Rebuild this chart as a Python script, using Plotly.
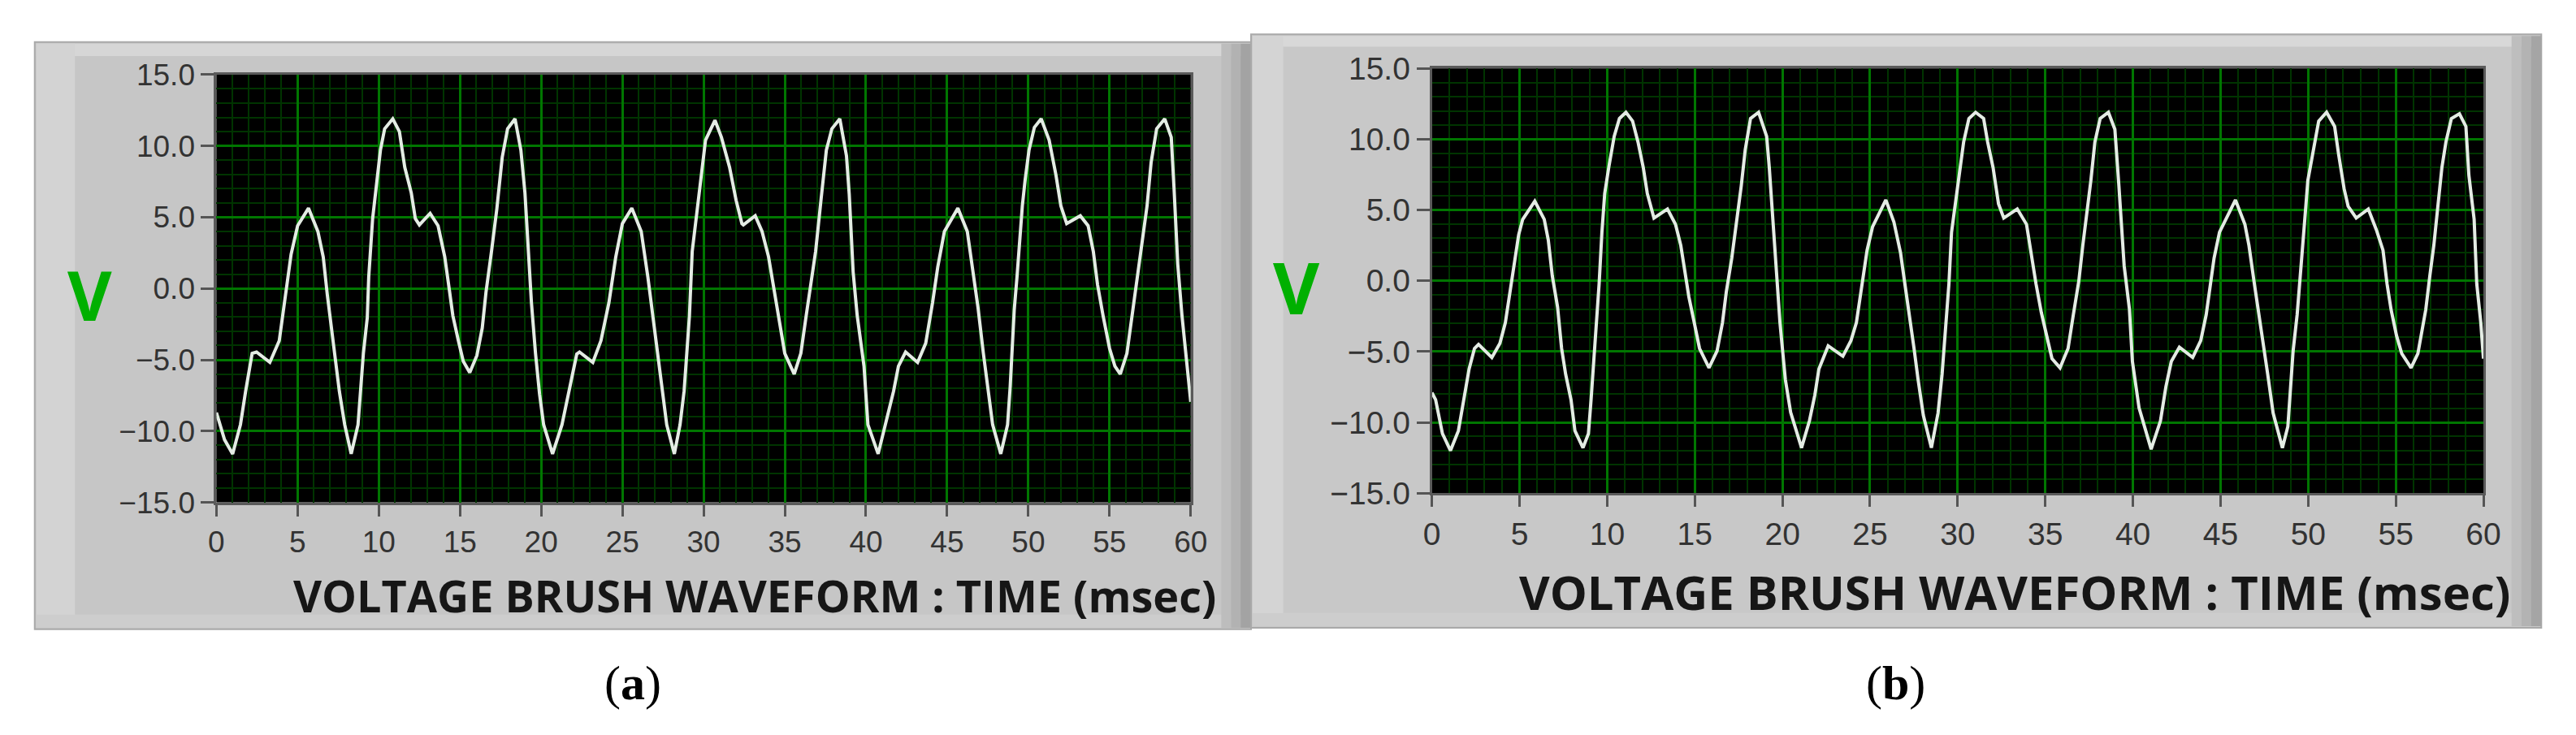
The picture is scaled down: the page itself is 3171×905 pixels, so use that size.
import plotly.graph_objects as go

# ---------------- data ----------------
time_a = [0.0, 0.5, 1.0, 1.48, 1.8, 2.2, 2.47, 3.29, 3.87, 4.28, 4.6, 5.0, 5.67, 6.25, 6.58, 6.83,
          7.15, 7.57, 7.9, 8.3, 8.72, 8.88, 9.05, 9.29, 9.38, 9.62, 9.87, 10.1, 10.36, 10.86, 11.27,
          11.6, 12.0, 12.25, 12.5, 13.16, 13.65, 14.06, 14.3, 14.56, 14.9, 15.2, 15.6, 16.04, 16.37,
          16.6, 16.94, 17.27, 17.6, 17.93, 18.39, 18.75, 19.0, 19.16, 19.4, 19.65, 19.9, 20.15, 20.7,
          21.28, 21.86, 22.19, 22.36, 23.18, 23.68, 24.17, 24.59, 25.0, 25.58, 26.16, 26.57, 26.9,
          27.15, 27.48, 27.73, 28.2, 28.55, 28.8, 29.13, 29.3, 29.55, 29.8, 30.12, 30.7, 31.1, 31.6,
          32.0, 32.36, 32.45, 33.18, 33.6, 34.0, 34.34, 34.6, 35.0, 35.58, 35.99, 36.32, 36.57, 36.9,
          37.23, 37.56, 37.9, 38.39, 38.8, 38.97, 39.21, 39.46, 39.88, 40.12, 40.75,
          41.36, 41.7, 42.0, 42.44, 43.18, 43.68, 44.1, 44.42, 44.83, 45.66, 46.24, 46.57, 46.9, 47.23,
          47.48, 47.8, 48.3, 48.72, 48.88, 49.13, 49.3, 49.46, 49.63, 49.8, 50.04, 50.37, 50.79, 51.28,
          51.7, 52.0, 52.36, 53.2, 53.68, 54.0, 54.26, 54.6, 55.0, 55.33, 55.66, 56.07, 56.4, 56.65,
          56.98, 57.31, 57.56, 57.9, 58.4, 58.8, 58.97, 59.2, 59.46, 59.8, 60.0]
volt_a = [-8.7, -10.6, -11.6, -9.55, -7.2, -4.55, -4.46, -5.18, -3.66, -0.1, 2.4, 4.4, 5.63, 4.0, 2.2, -0.45,
          -3.5, -7.2, -9.55, -11.6, -9.55, -7.2, -4.55, -2.05, 0.8, 4.9, 7.4, 9.7, 11.2, 11.9, 11.0,
          8.5, 6.7, 4.9, 4.46, 5.27, 4.4, 2.23, 0.27, -1.9, -3.66, -5.1, -5.9, -4.7, -2.77,
          -0.27, 2.6, 5.6, 9.2, 11.2, 11.9, 9.7, 6.7, 3.5, -1.0, -4.55, -7.4, -9.55, -11.6,
          -9.55, -6.3, -4.6, -4.46, -5.18, -3.66, -1.0, 2.2, 4.55, 5.63, 4.0, 0.8, -2.05,
          -4.2, -7.2, -9.55, -11.6, -9.55, -7.2, -1.9, 2.6, 5.1, 7.4, 10.4, 11.8, 10.6, 8.5,
          6.2, 4.55, 4.46, 5.1, 4.0, 2.23, -0.1, -1.9, -4.55, -6.0, -4.55, -1.9, -0.1, 2.6,
          6.2, 9.7, 11.2, 11.9, 9.3, 6.6, 1.16, -1.9, -5.45, -9.55, -11.6,
          -8.84, -7.2, -5.45, -4.46, -5.18, -3.84, -1.0, 1.5, 4.0, 5.63, 4.0, 1.5, -1.34, -4.55,
          -6.7, -9.55, -11.6, -9.55, -6.9, -1.5, 0.8, 3.5, 5.8, 7.6, 9.7, 11.3, 11.9, 10.4,
          7.95, 5.8, 4.55, 5.1, 4.4, 2.6, 0.27, -1.9, -4.2, -5.45, -6.0, -4.55, -1.9, 0.1,
          2.95, 5.8, 8.84, 11.2, 11.9, 10.6, 7.05, 1.7, -1.9, -5.45, -7.95]

time_b = [0.0, 0.21, 0.6, 1.06, 1.51, 1.82, 2.12, 2.43, 2.66, 3.42, 3.88, 4.19, 4.42, 4.57, 4.72, 4.95,
          5.18, 5.87, 6.41, 6.64, 6.87, 7.17, 7.4, 7.63, 7.94, 8.16, 8.62, 8.93, 9.08, 9.24, 9.39,
          9.54, 9.7, 9.86, 10.09, 10.4, 10.7, 11.07, 11.45, 11.76, 12.06, 12.29, 12.67, 13.44, 13.9,
          14.2, 14.43, 14.66, 14.97, 15.27, 15.81, 16.27, 16.58, 16.8, 17.11, 17.42, 17.65, 17.88,
          18.18, 18.64, 19.1, 19.25, 19.4, 19.56, 19.71, 19.86, 20.0, 20.17, 20.47, 21.09, 21.54,
          21.85, 22.08, 22.61, 23.45, 23.91, 24.22, 24.53, 24.83, 25.14, 25.9, 26.36, 26.74, 27.05,
          27.28, 27.51, 27.74, 28.04, 28.5, 28.88, 29.11, 29.27, 29.5, 29.65, 29.88, 30.11, 30.34,
          30.64, 31.02, 31.48, 31.71, 32.02, 32.33, 32.63, 33.4, 33.93, 34.16, 34.47, 34.77, 35.08,
          35.38, 35.84, 36.3, 36.6, 36.91, 37.14, 37.37, 37.6, 37.83, 38.13, 38.6, 38.97, 39.2, 39.5,
          39.8, 39.97, 40.35, 41.04, 41.57, 41.88, 42.19, 42.65, 43.41, 43.87, 44.18, 44.41, 44.63,
          44.94, 45.85, 46.39, 46.62, 46.93, 47.23, 47.46, 47.69, 48.0, 48.53, 48.84, 48.99, 49.14,
          49.37, 49.53, 49.68, 49.83, 49.98, 50.21, 50.6, 51.05, 51.51, 51.74, 52.05, 52.28, 52.74,
          53.43, 53.89, 54.27, 54.5, 54.73, 55.04, 55.34, 55.87, 56.26, 56.49, 56.71, 56.94, 57.17,
          57.4, 57.63, 57.86, 58.17, 58.63, 59.0, 59.17, 59.47, 59.62, 59.85, 60.0]
volt_b = [-7.9, -8.4, -10.8, -12.0, -10.6, -8.43, -6.24, -4.78, -4.5, -5.42, -4.42, -2.96, -1.13, 0.33, 1.6, 3.25,
          4.34, 5.62, 4.34, 2.88, 0.33, -1.86, -4.78, -6.6, -8.43, -10.6, -11.8, -10.8, -8.43, -5.7, -2.96,
          -0.22, 3.43, 6.17, 8.0, 10.2, 11.46, 11.9, 11.28, 9.8, 8.0, 6.17, 4.43, 5.07, 3.98,
          2.5, 0.69, -1.13, -2.96, -4.78, -6.15, -4.96, -2.96, -0.77, 1.6, 4.34, 6.7, 9.27,
          11.46, 11.9, 10.2, 8.0, 5.26, 2.5, -0.22, -2.96, -4.8, -7.0, -9.3, -11.8, -9.9,
          -8.07, -6.24, -4.6, -5.33, -4.23, -2.96, -0.22, 2.15, 3.8, 5.71, 4.16, 1.97, -0.77,
          -2.6, -4.78, -6.97, -9.5, -11.8, -9.34, -6.6, -3.87, -0.22, 3.43, 5.62, 8.0, 9.8,
          11.46, 11.9, 11.46, 9.8, 8.0, 5.44, 4.43, 5.07, 3.98, 2.15, -0.22, -2.23, -3.87,
          -5.5, -6.15, -4.78, -2.4, -0.04, 2.5, 4.7, 7.08, 9.8, 11.46, 11.9, 10.7, 6.7, 1.06,
          -2.0, -5.7, -8.98, -11.9, -9.9, -7.5, -5.7, -4.69, -5.42, -4.23, -2.4, -0.22, 1.6,
          3.43, 5.71, 3.98, 2.5, -0.22, -2.6, -4.78, -6.6, -9.34, -11.8, -10.3, -7.5, -4.96,
          -2.4, 0.33, 2.5, 4.7, 7.08, 8.7, 11.28, 11.9, 10.9, 8.9, 6.5, 5.26, 4.43,
          5.07, 3.6, 2.15, -0.22, -2.04, -3.87, -5.15, -6.15, -5.15, -3.69, -2.04, 0.33, 2.5,
          5.26, 8.0, 9.8, 11.46, 11.8, 10.9, 7.45, 4.34, -0.22, -2.96, -5.5]

axis_title = "VOLTAGE BRUSH WAVEFORM : TIME (msec)"
y_label = "V"
panel_labels = ["a", "b"]

# ---------------- figure ----------------
W, H = 3171, 905


def px_x(x):
    return x / W


def px_y(y):
    return 1 - y / H


# plot-area boxes in pixels (left, top, right, bottom)
box_a = (250, 66, 1462, 619)
box_b = (1762, 58, 3070, 607)

fig = go.Figure()

line_style = dict(color="#e4ece4", width=4)
fig.add_trace(go.Scatter(x=time_a, y=volt_a, mode="lines", line=line_style,
                         xaxis="x", yaxis="y", showlegend=False, hoverinfo="skip"))
fig.add_trace(go.Scatter(x=time_b, y=volt_b, mode="lines", line=line_style,
                         xaxis="x2", yaxis="y2", showlegend=False, hoverinfo="skip"))

tick_family = "Liberation Sans, Arial, sans-serif"
tick_font_a = dict(family=tick_family, size=37, color="#333333")
tick_font_b = dict(family=tick_family, size=39, color="#333333")

major_grid = "rgb(0,118,0)"
minor_grid = "rgb(0,52,0)"


def xaxis_cfg(box, font):
    return dict(domain=[px_x(box[0]), px_x(box[2])], range=[0, 60], dtick=5, tick0=0,
                showgrid=True, gridcolor=major_grid, gridwidth=2.5,
                minor=dict(dtick=1, showgrid=True, gridcolor=minor_grid, gridwidth=1.5),
                ticks="outside", ticklen=14, tickwidth=3, tickcolor="#555555",
                tickfont=font, showline=True, linecolor="#5a5a5a", linewidth=3, mirror=True,
                zeroline=False, fixedrange=True)


def yaxis_cfg(box, font, anchor):
    return dict(domain=[px_y(box[3]), px_y(box[1])], range=[-15, 15], dtick=5, tick0=0,
                tickformat=".1f",
                showgrid=True, gridcolor=major_grid, gridwidth=2.5,
                minor=dict(dtick=1, showgrid=True, gridcolor=minor_grid, gridwidth=1.5),
                ticks="outside", ticklen=16, tickwidth=3, tickcolor="#555555",
                tickfont=font, showline=True, linecolor="#5a5a5a", linewidth=3, mirror=True,
                zeroline=False, anchor=anchor, fixedrange=True)


fig.update_layout(
    width=W, height=H,
    margin=dict(l=0, r=0, t=0, b=0),
    paper_bgcolor="white",
    plot_bgcolor="black",
    xaxis=xaxis_cfg(box_a, tick_font_a),
    yaxis=yaxis_cfg(box_a, tick_font_a, "x"),
    xaxis2=dict(xaxis_cfg(box_b, tick_font_b), anchor="y2"),
    yaxis2=yaxis_cfg(box_b, tick_font_b, "x2"),
)

# ---------------- gray LabVIEW-like panels ----------------
shapes = []


def rect(x0, y0, x1, y1, fill, line=None, lw=0):
    shapes.append(dict(type="rect", xref="paper", yref="paper",
                       x0=px_x(x0), x1=px_x(x1), y0=px_y(y1), y1=px_y(y0),
                       fillcolor=fill, line=dict(color=line or fill, width=lw),
                       layer="below"))


# panel (a)
rect(24, 24, 1537, 783, "#c6c6c6", "#a9a9a9", 2)
rect(26, 26, 1535, 42, "#d6d6d6")
rect(26, 26, 74, 781, "#d3d3d3")
rect(26, 764, 1535, 781, "#cdcdcd")
rect(1500, 26, 1512, 781, "#bdbdbd")
rect(1512, 26, 1524, 781, "#b2b2b2")
rect(1524, 26, 1537, 781, "#a3a3a3")
# panel (b)
rect(1537, 14, 3142, 781, "#c8c8c8", "#a9a9a9", 2)
rect(1539, 16, 3140, 30, "#d8d8d8")
rect(1539, 16, 1577, 779, "#d4d4d4")
rect(1539, 762, 3140, 779, "#cdcdcd")
rect(3105, 16, 3117, 779, "#bebebe")
rect(3117, 16, 3129, 779, "#b3b3b3")
rect(3129, 16, 3142, 779, "#a5a5a5")
# black plot screens
rect(*box_a, "black")
rect(*box_b, "black")

fig.update_layout(shapes=shapes)

# ---------------- text ----------------
title_font = dict(family="Open Sans, Noto Sans, DejaVu Sans, sans-serif", size=54, color="#161616")
annotations = [
    dict(text="<b>" + axis_title + "</b>", x=px_x(920), y=px_y(739), xref="paper", yref="paper",
         showarrow=False, xanchor="center", yanchor="middle", font=title_font),
    dict(text="<b>" + axis_title + "</b>", x=px_x(2487), y=px_y(734), xref="paper", yref="paper",
         showarrow=False, xanchor="center", yanchor="middle",
         font=dict(title_font, size=58)),
    dict(text="<b>" + y_label + "</b>", x=px_x(92), y=px_y(350), xref="paper", yref="paper",
         showarrow=False, xanchor="center", yanchor="middle",
         font=dict(family="Open Sans, DejaVu Sans, sans-serif", size=84, color="#00b000")),
    dict(text="<b>" + y_label + "</b>", x=px_x(1594), y=px_y(340), xref="paper", yref="paper",
         showarrow=False, xanchor="center", yanchor="middle",
         font=dict(family="Open Sans, DejaVu Sans, sans-serif", size=88, color="#00b000")),
    dict(text="(<b>" + panel_labels[0] + "</b>)", x=px_x(768), y=px_y(852), xref="paper", yref="paper",
         showarrow=False, xanchor="center", yanchor="middle",
         font=dict(family="Liberation Serif, DejaVu Serif, serif", size=60, color="black")),
    dict(text="(<b>" + panel_labels[1] + "</b>)", x=px_x(2339), y=px_y(852), xref="paper", yref="paper",
         showarrow=False, xanchor="center", yanchor="middle",
         font=dict(family="Liberation Serif, DejaVu Serif, serif", size=60, color="black")),
]
fig.update_layout(annotations=annotations)

fig.write_html("out.html")
